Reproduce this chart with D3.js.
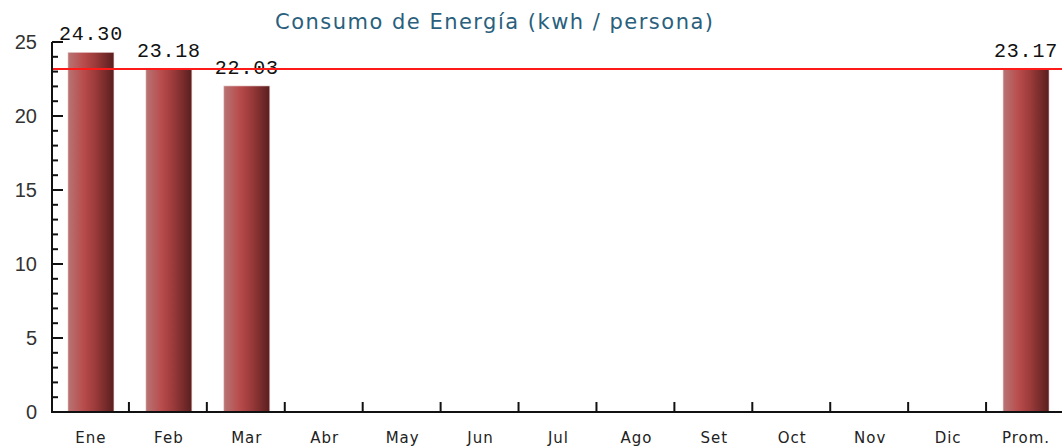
<!DOCTYPE html>
<html>
<head>
<meta charset="utf-8">
<script src="https://cdn.jsdelivr.net/npm/d3@7"></script>
<style>
body { margin: 0; background: #fff; }
svg { display: block; }
</style>
</head>
<body>
<div id="chart"></div>
<script>
var WIDTH = 1062;
var HEIGHT = 448;

// data
var months = ["Ene","Feb","Mar","Abr","May","Jun","Jul","Ago","Set","Oct","Nov","Dic","Prom."];
var values = [24.30, 23.18, 22.03, null, null, null, null, null, null, null, null, null, 23.17];
var average = 23.17;
var yTicks = [0, 5, 10, 15, 20, 25];
var title = "Consumo de Energía (kwh / persona)";

var margin = {left: 52, top: 42, bottom: 412, right: 1064};

var svg = d3.select('#chart').append('svg')
	.attr('width', WIDTH).attr('height', HEIGHT);

var x = d3.scaleBand().domain(months).range([51, margin.right]);
var y = d3.scaleLinear().domain([0, 25]).range([margin.bottom, margin.top]);

// bar gradient: light left edge, red body, dark right side
var defs = svg.append('defs');
var grad = defs.append('linearGradient').attr('id', 'barGrad')
	.attr('x1', '0%').attr('x2', '100%').attr('y1', '0%').attr('y2', '0%');
grad.append('stop').attr('offset', '0%').attr('stop-color', '#b87474');
grad.append('stop').attr('offset', '35%').attr('stop-color', '#b84b4b');
grad.append('stop').attr('offset', '60%').attr('stop-color', '#9a3a3a');
grad.append('stop').attr('offset', '100%').attr('stop-color', '#5a1e1e');

// title
svg.append('text')
	.attr('x', 494).attr('y', 29)
	.attr('text-anchor', 'middle')
	.attr('font-family', 'DejaVu Sans, Verdana, sans-serif')
	.attr('font-size', 21)
	.attr('fill', '#2a5f7d')
	.attr('textLength', 438).attr('lengthAdjust', 'spacing')
	.text(title);

// bars
var barW = x.bandwidth() * 0.59;
var data = months.map(function(m, i) { return {m: m, v: values[i]}; })
	.filter(function(d) { return d.v != null; });

svg.selectAll('rect.bar').data(data).enter().append('rect')
	.attr('class', 'bar')
	.attr('x', function(d) { return x(d.m) + x.bandwidth()/2 - barW/2 + 1; })
	.attr('y', function(d) { return y(d.v); })
	.attr('width', barW)
	.attr('height', function(d) { return y(0) - y(d.v); })
	.attr('fill', 'url(#barGrad)')
	.attr('stroke', '#e8d0d0').attr('stroke-width', 0.6);

// value labels
svg.selectAll('text.val').data(data).enter().append('text')
	.attr('class', 'val')
	.attr('x', function(d) { return x(d.m) + x.bandwidth()/2 + 1; })
	.attr('y', function(d) { return y(d.v) - 12; })
	.attr('text-anchor', 'middle')
	.attr('font-family', 'Liberation Mono, Courier New, monospace')
	.attr('font-size', 20)
	.attr('letter-spacing', 0.8)
	.attr('fill', '#111')
	.text(function(d) { return d.v.toFixed(2); });

// average line
svg.append('line')
	.attr('x1', margin.left).attr('x2', WIDTH)
	.attr('y1', y(average)).attr('y2', y(average))
	.attr('stroke', '#ff1a1a').attr('stroke-width', 2);

// y axis: line, major ticks every 5, minor every 1 (pointing inward)
var yAxis = svg.append('g');
yAxis.append('line')
	.attr('x1', margin.left).attr('x2', margin.left)
	.attr('y1', y(25)).attr('y2', y(0))
	.attr('stroke', '#111').attr('stroke-width', 2);
yAxis.selectAll('line.tick').data(d3.range(0, 26)).enter().append('line')
	.attr('x1', margin.left)
	.attr('x2', function(d) { return margin.left + (d % 5 == 0 ? 11 : 6); })
	.attr('y1', function(d) { return y(d); }).attr('y2', function(d) { return y(d); })
	.attr('stroke', '#111').attr('stroke-width', 2);
yAxis.selectAll('text').data(yTicks).enter().append('text')
	.attr('x', 37).attr('y', function(d) { return y(d) + 7; })
	.attr('text-anchor', 'end')
	.attr('font-family', 'Liberation Sans, Arial, sans-serif')
	.attr('font-size', 20)
	.attr('fill', '#333')
	.text(function(d) { return d; });

// x axis: baseline, ticks between categories, labels
var xAxis = svg.append('g');
xAxis.append('line')
	.attr('x1', margin.left - 1).attr('x2', WIDTH)
	.attr('y1', y(0)).attr('y2', y(0))
	.attr('stroke', '#111').attr('stroke-width', 2);
xAxis.selectAll('line.tick').data(months.slice(1)).enter().append('line')
	.attr('x1', function(d) { return x(d); }).attr('x2', function(d) { return x(d); })
	.attr('y1', y(0)).attr('y2', y(0) - 10)
	.attr('stroke', '#111').attr('stroke-width', 2);
xAxis.selectAll('text').data(months).enter().append('text')
	.attr('x', function(d) { return x(d) + x.bandwidth()/2 + 1; })
	.attr('y', 443)
	.attr('text-anchor', 'middle')
	.attr('font-family', 'DejaVu Sans, Verdana, sans-serif')
	.attr('font-size', 15)
	.attr('letter-spacing', 1)
	.attr('fill', '#222')
	.text(function(d) { return d; });
</script>
</body>
</html>
